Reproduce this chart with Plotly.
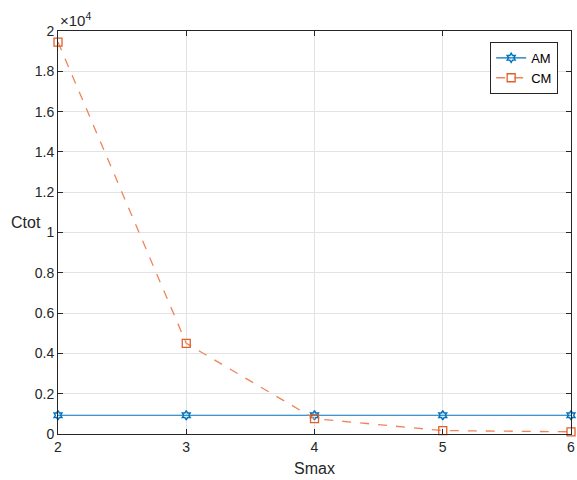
import plotly.graph_objects as go

smax = [2, 3, 4, 5, 6]
am_values = [930, 930, 930, 930, 930]
cm_values = [19450, 4500, 760, 170, 110]
y_tick_vals = [0, 2000, 4000, 6000, 8000, 10000, 12000, 14000, 16000, 18000, 20000]
y_tick_text = ["0", "0.2", "0.4", "0.6", "0.8", "1", "1.2", "1.4", "1.6", "1.8", "2"]
x_tick_vals = [2, 3, 4, 5, 6]

font_family = "Liberation Sans, Arial, sans-serif"
axis_color = "#262626"

fig = go.Figure()
fig.add_trace(go.Scatter(
    x=smax, y=am_values, name="AM", mode="lines+markers",
    line=dict(color="#0072BD", width=1.2),
    marker=dict(symbol="hexagram-open", size=7, color="#0072BD", line=dict(width=1.4)),
    cliponaxis=False,
))
fig.add_trace(go.Scatter(
    x=smax, y=cm_values, name="CM", mode="lines+markers",
    line=dict(color="#F08458", width=1.3, dash="dash"),
    marker=dict(symbol="square-open", size=8, color="#E0602A", line=dict(width=1.3)),
    cliponaxis=False,
))

axis_common = dict(
    showline=True, linecolor=axis_color, linewidth=1, mirror="ticks",
    ticks="inside", ticklen=5, tickcolor=axis_color,
    showgrid=True, gridcolor="#E3E3E3", gridwidth=1,
    zeroline=False, automargin=False,
    tickfont=dict(family=font_family, size=14, color=axis_color),
)

fig.update_xaxes(range=[2, 6], tickvals=x_tick_vals, **axis_common)
fig.update_yaxes(range=[0, 20000], tickvals=y_tick_vals, ticktext=y_tick_text, **axis_common)

fig.update_layout(
    width=577, height=480,
    margin=dict(l=58, r=6, t=31, b=46, autoexpand=False),
    plot_bgcolor="white", paper_bgcolor="white",
    font=dict(family=font_family, size=14, color=axis_color),
    showlegend=True,
    legend=dict(
        x=0.975, y=0.973, xanchor="right", yanchor="top",
        bgcolor="white", bordercolor=axis_color, borderwidth=1,
        font=dict(family=font_family, size=13, color="#000000"),
        itemwidth=30, tracegroupgap=0,
    ),
    annotations=[
        dict(text="Smax", x=0.5, y=-0.06, xref="paper", yref="paper",
             xanchor="center", yanchor="top", showarrow=False,
             font=dict(family=font_family, size=16, color=axis_color)),
        dict(text="Ctot", x=-0.03, y=0.525, xref="paper", yref="paper",
             xanchor="right", yanchor="middle", showarrow=False,
             font=dict(family=font_family, size=16, color=axis_color)),
        dict(text="\u00d710<sup>4</sup>", x=0.0, y=1.0, xref="paper", yref="paper",
             xanchor="left", yanchor="bottom", showarrow=False,
             font=dict(family=font_family, size=15, color=axis_color)),
    ],
)

fig.write_html(
    "out.html",
    config={"displayModeBar": False},
    post_script="document.body.style.margin='0';document.body.style.overflow='hidden';",
)
